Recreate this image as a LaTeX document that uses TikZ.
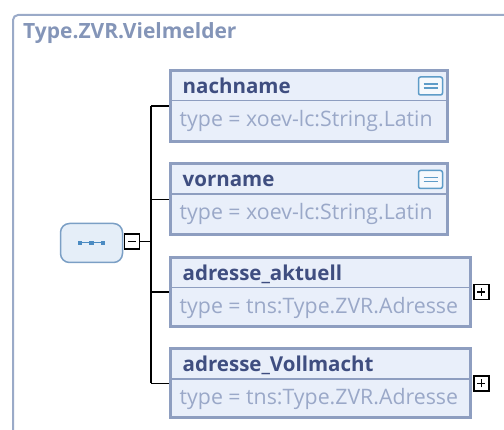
\documentclass[tikz,border=0pt]{standalone}
\usepackage{fontspec}
\setmainfont{Open Sans}
\usepackage{xcolor}
\definecolor{cFrame}{HTML}{9AAAC8}
\definecolor{cTitle}{HTML}{8495B8}
\definecolor{cElem}{HTML}{8E9EC0}
\definecolor{cElemFill}{HTML}{E9EFFA}
\definecolor{cName}{HTML}{3F4E80}
\definecolor{cType}{HTML}{9AA8C8}
\definecolor{cSeq}{HTML}{7B9FC5}
\definecolor{cSeqFill}{HTML}{E5EEF8}
\definecolor{cDot}{HTML}{4B8BC2}
\definecolor{cIcon}{HTML}{5E9CC8}
\usetikzlibrary{calc}
\tikzset{
  node-elem/.style={draw=cElem,line width=3pt,fill=cElemFill,inner sep=0pt},
  node-name/.style={inner sep=0pt,anchor=base west,text=cName,
    font=\fontsize{20.5}{24}\selectfont\bfseries},
  node-type/.style={inner sep=0pt,anchor=base west,text=cType,
    font=\fontsize{21.3}{25}\selectfont},
  node-doc/.style={draw=cIcon,line width=1.5pt,fill=white!60!cElemFill,
    rounded corners=2pt,minimum width=24pt,minimum height=18pt,inner sep=0pt,
    path picture={
      \draw[cIcon,line width=1.2pt]
        ($(path picture bounding box.center)+(-7pt,-2pt)$) -- ++(14pt,0pt)
        ($(path picture bounding box.center)+(-7pt,2pt)$) -- ++(14pt,0pt);}},
  node-toggle/.style={draw=black,line width=1.5pt,fill=white,
    minimum size=15pt,inner sep=0pt},
  divider/.style={draw=cElem,line width=1.5pt},
  conn/.style={draw=black,line width=1.8pt},
}

\begin{document}
\begin{tikzpicture}[x=1pt,y=-1pt]
  \useasboundingbox (0,0) rectangle (504,430);
  \clip (0,0) rectangle (504,430);
  % outer frame of the type
  \draw[cFrame,line width=2pt,rounded corners=5pt] (13,15) rectangle (530,460);
  \node[inner sep=0pt,anchor=base west,text=cTitle,
    font=\fontsize{21}{25}\selectfont\bfseries] (title) at (23,39) {Type.ZVR.Vielmelder};

  % elements
  \node[node-elem,minimum width=277pt,minimum height=71pt] (nachname) at (309,106) {};
  \node[node-elem,minimum width=277pt,minimum height=71pt] (vorname) at (309,199.5) {};
  \node[node-elem,minimum width=300pt,minimum height=69pt] (aktuell) at (320.5,292) {};
  \node[node-elem,minimum width=300pt,minimum height=69pt] (vollmacht) at (320.5,383.5) {};
  \foreach \e/\n/\t in {nachname/nachname/xoev-lc:String.Latin,
      vorname/vorname/xoev-lc:String.Latin,
      aktuell/adresse\_aktuell/tns:Type.ZVR.Adresse,
      vollmacht/adresse\_Vollmacht/tns:Type.ZVR.Adresse}{
    \draw[divider] ([xshift=1.5pt,yshift=-31.5pt]\e.north west)
      -- ([xshift=-1.5pt,yshift=-31.5pt]\e.north east);
    \node[node-name] (\e-name) at ([xshift=13.5pt,yshift=-24.5pt]\e.north west) {\n};
    \node[node-type] (\e-type) at ([xshift=10.5pt,yshift=-57.5pt]\e.north west) {type = \t};
  }
  \node[node-doc] (nachname-doc) at ([xshift=-18.5pt,yshift=-17pt]nachname.north east) {};
  \node[node-doc] (vorname-doc) at ([xshift=-18.5pt,yshift=-17pt]vorname.north east) {};

  % sequence compositor
  \node[draw=cSeq,line width=1.5pt,fill=cSeqFill,rounded corners=9pt,
    minimum width=62pt,minimum height=39pt,inner sep=0pt] (seq) at (91.5,243) {};
  \draw[cDot,line width=1pt] ([xshift=-11.5pt]seq.center) -- ([xshift=11.5pt]seq.center);
  \foreach \dx in {-11.5,0,11.5}
    \fill[cDot] ([xshift=\dx pt]seq.center) ++(-2.3pt,-2.3pt) rectangle ++(4.6pt,4.6pt);
  \node[node-toggle] (seq-toggle) at (132,241.5) {};
  \draw[line width=1.5pt] ([xshift=-4pt]seq-toggle.center) -- ([xshift=4pt]seq-toggle.center);
  \coordinate (trunk) at (151,243);

  % connectors
  \draw[conn] (seq-toggle.east) -- (seq-toggle.east -| trunk);
  \draw[conn] (nachname.west -| trunk) -- (vollmacht.west -| trunk);
  \foreach \e in {nachname,vorname,aktuell,vollmacht}
    \draw[conn] (\e.west -| trunk) -- (\e.west);

  % expand buttons
  \foreach \e in {aktuell,vollmacht}{
    \node[node-toggle,anchor=west] (\e-toggle) at ([xshift=1pt]\e.east) {};
    \draw[line width=1.5pt] ([xshift=-4pt]\e-toggle.center) -- ([xshift=4pt]\e-toggle.center)
      ([yshift=-4pt]\e-toggle.center) -- ([yshift=4pt]\e-toggle.center);
  }
\end{tikzpicture}
\end{document}
